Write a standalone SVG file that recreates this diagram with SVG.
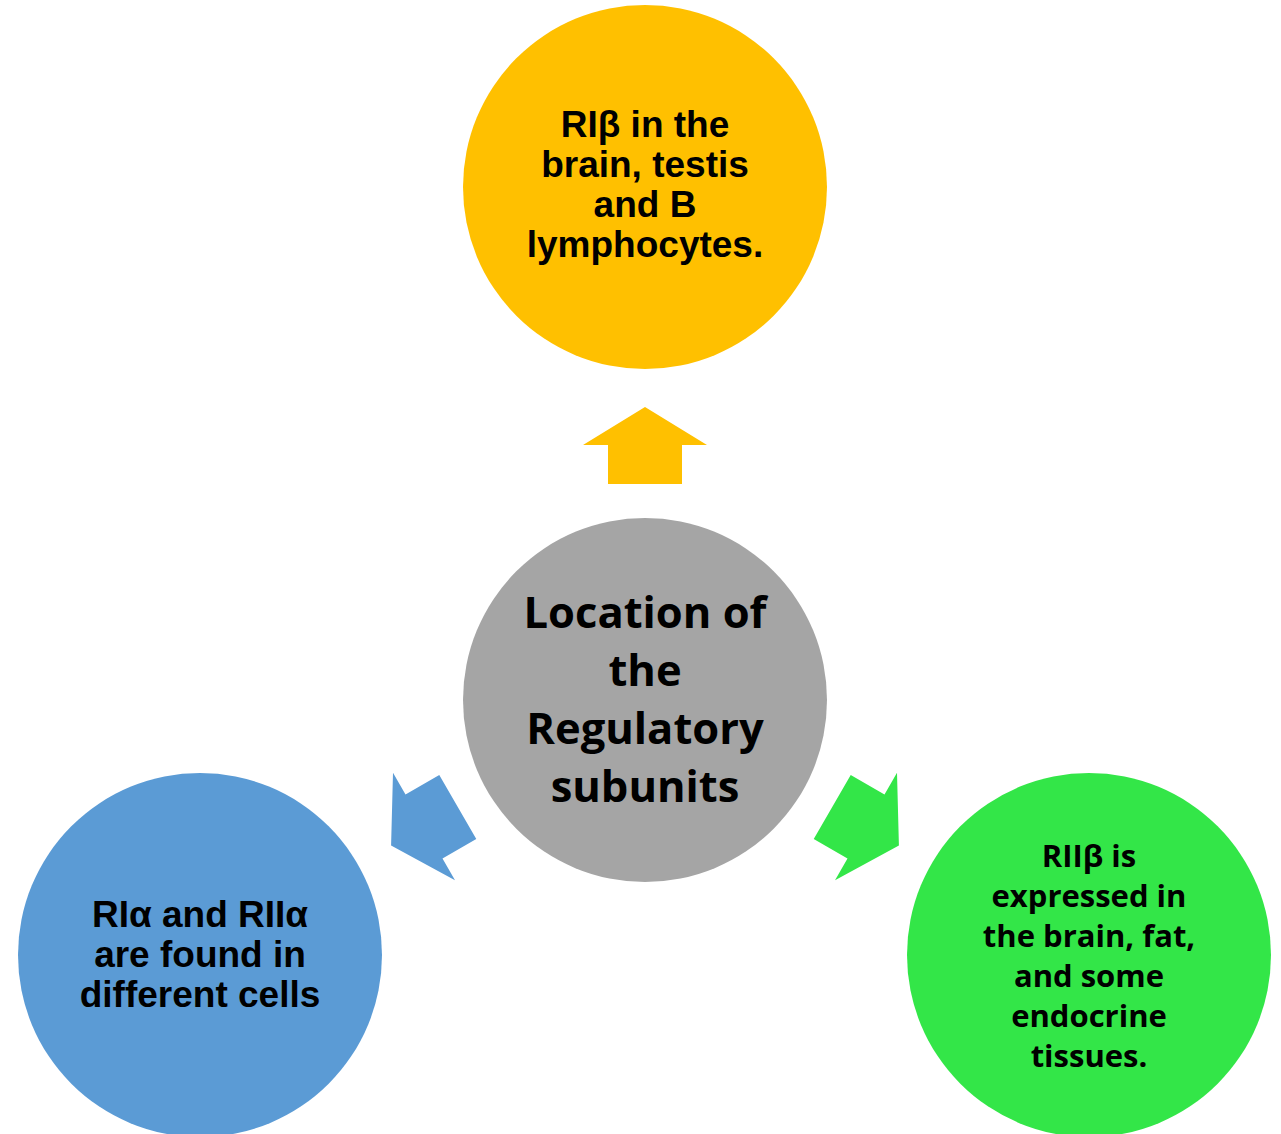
<svg xmlns="http://www.w3.org/2000/svg" width="1281" height="1134" viewBox="0 0 1281 1134">
  <style>
    .arial { font-family: "Liberation Sans", Arial, sans-serif; font-weight: bold; font-size: 37px; fill: #000; text-anchor: middle; }
    .cal { font-family: "Open Sans", "Noto Sans", sans-serif; font-weight: bold; fill: #000; text-anchor: middle; }
    .big { font-size: 43.5px; }
    .small { font-size: 31px; }
  </style>
  <defs>
    <!-- block arrow pointing up, origin at the middle of the head base -->
    <polygon id="blockArrow" points="0,-38 62,0 37,0 37,39 -37,39 -37,0 -62,0"/>
  </defs>

  <rect width="1281" height="1134" fill="#ffffff"/>

  <g id="connectors">
    <use href="#blockArrow" transform="translate(645,445)" fill="#FFC000"/>
    <use href="#blockArrow" transform="translate(424,826.5) rotate(-120)" fill="#5B9BD5"/>
    <use href="#blockArrow" transform="translate(866,826.5) rotate(120)" fill="#33E648"/>
  </g>

  <g id="node-top">
    <circle cx="645" cy="187" r="182" fill="#FFC000"/>
    <text class="arial" x="645" y="137">RIβ in the</text>
    <text class="arial" x="645" y="177">brain, testis</text>
    <text class="arial" x="645" y="217">and B</text>
    <text class="arial" x="645" y="257">lymphocytes.</text>
  </g>

  <g id="node-center">
    <circle cx="645" cy="700" r="182" fill="#A5A5A5"/>
    <text class="cal big" x="645" y="628">Location of</text>
    <text class="cal big" x="645" y="686">the</text>
    <text class="cal big" x="645" y="744">Regulatory</text>
    <text class="cal big" x="645" y="802">subunits</text>
  </g>

  <g id="node-left">
    <circle cx="200" cy="955" r="182" fill="#5B9BD5"/>
    <text class="arial" x="200" y="927">RIα and RIIα</text>
    <text class="arial" x="200" y="967">are found in</text>
    <text class="arial" x="200" y="1007">different cells</text>
  </g>

  <g id="node-right">
    <circle cx="1089" cy="955" r="182" fill="#33E648"/>
    <text class="cal small" x="1089" y="867">RIIβ is</text>
    <text class="cal small" x="1089" y="907">expressed in</text>
    <text class="cal small" x="1089" y="947">the brain, fat,</text>
    <text class="cal small" x="1089" y="987">and some</text>
    <text class="cal small" x="1089" y="1027">endocrine</text>
    <text class="cal small" x="1089" y="1067">tissues.</text>
  </g>
</svg>
